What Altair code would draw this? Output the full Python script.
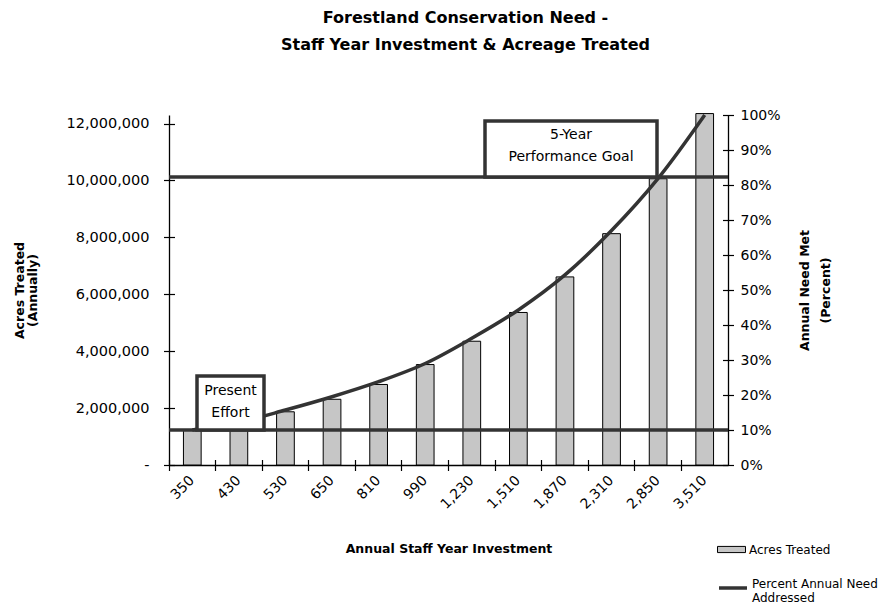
import altair as alt
import pandas as pd

# ---- data ----
staff_labels = ["350", "430", "530", "650", "810", "990", "1,230", "1,510",
                "1,870", "2,310", "2,850", "3,510"]
acres_treated = [1230000, 1510000, 1870000, 2310000, 2830000, 3530000,
                 4350000, 5360000, 6610000, 8130000, 10060000, 12350000]
pct_need_met = [10.0, 12.2, 15.7, 19.5, 23.8, 29.0, 36.2, 44.3, 54.3,
                67.0, 81.9, 100.0]
level_names = ["Present Effort", "5-Year Performance Goal"]
level_pct = [10.0, 82.3]
left_tick_values = [0, 2000000, 4000000, 6000000, 8000000, 10000000, 12000000]
right_tick_values = [0, 10, 20, 30, 40, 50, 60, 70, 80, 90, 100]

FONT = "DejaVu Sans"
INK = "#333333"

df = pd.DataFrame({
    "staff": staff_labels,
    "acres": acres_treated,
    "pct": pct_need_met,
    "s_bar": ["Acres Treated"] * len(staff_labels),
    "s_line": ["Percent Annual Need Addressed"] * len(staff_labels),
})
levels = pd.DataFrame({"name": level_names, "pct": level_pct})
present_box = pd.DataFrame({"top": [25.4], "bottom": [level_pct[0]],
                            "first": [21.1], "txt": ["Present\nEffort"]})
goal_box = pd.DataFrame({"top": [98.3], "bottom": [level_pct[1]],
                         "first": [94.3], "txt": ["5-Year\nPerformance Goal"]})

x_scale = alt.Scale(paddingInner=0, paddingOuter=0)
acres_scale = alt.Scale(domain=[0, 12300000], nice=False, zero=True)
pct_scale = alt.Scale(domain=[0, 100], nice=False, zero=True)

# ---- acres (left axis) ----
bars = alt.Chart(df).mark_bar(
    width=alt.RelativeBandSize(0.38), stroke="black", strokeWidth=1
).encode(
    x=alt.X("staff:N", sort=staff_labels, scale=x_scale,
            axis=alt.Axis(orient="bottom", title="Annual Staff Year Investment",
                          titleFont=FONT, titleFontSize=12.5, titleFontWeight="bold",
                          titleY=83, titleBaseline="middle",
                          labelAngle=-45, labelFont=FONT, labelFontSize=14,
                          labelPadding=8, labelOffset=-5, ticks=False, tickSize=0,
                          domain=True, domainWidth=1.3)),
    y=alt.Y("acres:Q", scale=acres_scale,
            axis=alt.Axis(orient="left", values=left_tick_values,
                          labelExpr="datum.value == 0 ? '-' : format(datum.value, ',')",
                          labelFont=FONT, labelFontSize=14.5, labelPadding=20,
                          ticks=False, tickSize=0, domain=True, domainWidth=1.3,
                          grid=False,
                          title=["Acres Treated", "(Annually)"],
                          titleFont=FONT, titleFontSize=12.5, titleFontWeight="bold",
                          titleAngle=-90, titleBaseline="top", titleAlign="center",
                          titleX=-156, titleY=175, titleLineHeight=13)),
    fill=alt.Fill("s_bar:N", scale=alt.Scale(range=["#c6c6c6"]),
                  legend=alt.Legend(title=None, orient="none", legendX=548, legendY=420,
                                    symbolType="M-1,-0.22H1V0.22H-1Z", symbolSize=784,
                                    symbolStrokeColor="black", symbolStrokeWidth=1,
                                    labelFont=FONT, labelFontSize=12, labelColor="black",
                                    labelOffset=3, padding=0, labelLimit=300)),
)

bar_ticks = alt.Chart(df).mark_bar(opacity=0).encode(
    x=alt.X("staff:N", sort=staff_labels, scale=x_scale,
            axis=alt.Axis(orient="bottom", title=None, labels=False, domain=False,
                          ticks=True, tickSize=11, tickWidth=1.2, offset=-5.5,
                          bandPosition=0)),
    y=alt.Y("acres:Q", scale=acres_scale,
            axis=alt.Axis(orient="left", values=left_tick_values, title=None,
                          labels=False, domain=False, ticks=True, tickSize=11,
                          tickWidth=1.2, offset=-5.5, grid=False)),
)

acres_layer = alt.layer(bars, bar_ticks).resolve_axis(x="independent", y="independent")

# ---- percent (right axis) ----
line = alt.Chart(df).mark_line(interpolate="catmull-rom", strokeWidth=3.5).encode(
    x=alt.X("staff:N", sort=staff_labels, scale=x_scale, axis=None),
    y=alt.Y("pct:Q", scale=pct_scale,
            axis=alt.Axis(orient="right", values=right_tick_values,
                          labelExpr="datum.value + '%'",
                          labelFont=FONT, labelFontSize=14, labelPadding=12,
                          ticks=False, tickSize=0, domain=True, domainWidth=1.3,
                          grid=False,
                          title=["Annual Need Met", "(Percent)"],
                          titleFont=FONT, titleFontSize=12.5, titleFontWeight="bold",
                          titleAngle=-90, titleBaseline="top", titleAlign="center",
                          titleX=70, titleY=175, titleLineHeight=21)),
    stroke=alt.Stroke("s_line:N", scale=alt.Scale(range=[INK]),
                      legend=alt.Legend(title=None, orient="none", legendX=548, legendY=457,
                                        symbolType="stroke", symbolSize=784,
                                        symbolStrokeWidth=3.5,
                                        labelExpr="datum.label == 'Percent Annual Need Addressed' ? ['Percent Annual Need', 'Addressed'] : datum.label",
                                        labelBaseline="alphabetic",
                                        labelFont=FONT, labelFontSize=12, labelColor="black",
                                        labelOffset=3, padding=0, labelLimit=300)),
)

line_ticks = alt.Chart(df).mark_line(opacity=0).encode(
    x=alt.X("staff:N", sort=staff_labels, scale=x_scale, axis=None),
    y=alt.Y("pct:Q", scale=pct_scale,
            axis=alt.Axis(orient="right", values=right_tick_values, title=None,
                          labels=False, domain=False, ticks=True, tickSize=11,
                          tickWidth=1.2, offset=-5.5, grid=False)),
)

rules = alt.Chart(levels).mark_rule(strokeWidth=3.5, color=INK).encode(
    y=alt.Y("pct:Q", scale=pct_scale, axis=None),
)

def box(frame, x0, x1):
    rect = alt.Chart(frame).mark_rect(fill="white", stroke=INK, strokeWidth=3.5).encode(
        x=alt.value(x0), x2=alt.value(x1),
        y=alt.Y("top:Q", scale=pct_scale, axis=None), y2="bottom:Q",
    )
    txt = alt.Chart(frame).mark_text(font=FONT, fontSize=14, color="black",
                                     lineBreak="\n", lineHeight=22,
                                     align="center", baseline="middle").encode(
        x=alt.value((x0 + x1) / 2),
        y=alt.Y("first:Q", scale=pct_scale, axis=None),
        text="txt:N",
    )
    return [rect, txt]

pct_layer = alt.layer(line, line_ticks, rules,
                      *box(present_box, 28, 95),
                      *box(goal_box, 316, 488)).resolve_axis(y="independent")

chart = alt.layer(acres_layer, pct_layer).resolve_scale(
    y="independent"
).resolve_axis(x="independent", y="independent").properties(
    width=559, height=350,
    padding={"left": 169, "top": 115, "right": 161, "bottom": 149},
    autosize=alt.AutoSizeParams(type="none"),
    background="white",
    title=alt.TitleParams(
        text=["Forestland Conservation Need  -", "Staff Year Investment & Acreage Treated"],
        font=FONT, fontSize=16, fontWeight="bold", color="black",
        anchor="middle", frame="group", dx=17, offset=55, lineHeight=27),
).configure_view(stroke=None).configure_axis(
    labelColor="black", titleColor="black", domainColor="black", tickColor="black"
)

chart.save("out.html", embed_options={"renderer": "svg", "actions": False})
